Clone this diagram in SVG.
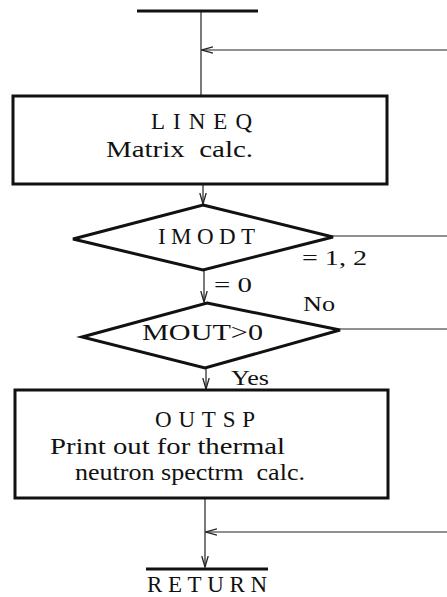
<svg xmlns="http://www.w3.org/2000/svg" width="447" height="597" viewBox="0 0 447 597">
<style>
text{font-family:"Liberation Serif","Times New Roman",serif;fill:#111;font-size:23px}
.lbl{font-size:22px}
.box{fill:#fff;stroke:#111;stroke-width:3}
.dia{fill:#fff;stroke:#111;stroke-width:3;stroke-linejoin:miter}
.ln{fill:none;stroke:#222;stroke-width:1.2}
.bar{stroke:#111;stroke-width:3}
</style>
<defs>
<marker id="ah" markerWidth="12" markerHeight="8" refX="11" refY="4" orient="auto" markerUnits="userSpaceOnUse">
<path d="M0,0.8 L11,4 L0,7.2" fill="none" stroke="#222" stroke-width="1.3"/>
</marker>
</defs>
<rect width="447" height="597" fill="#fff"/>
<g id="connectors">
<line class="ln" x1="201" y1="11" x2="201" y2="95"/>
<line class="ln" x1="447" y1="50" x2="202" y2="50" marker-end="url(#ah)"/>
<line class="ln" x1="203" y1="185" x2="203" y2="204" marker-end="url(#ah)"/>
<line class="ln" x1="333" y1="236" x2="447" y2="236"/>
<line class="ln" x1="204" y1="271" x2="204" y2="302" marker-end="url(#ah)"/>
<line class="ln" x1="340" y1="329" x2="447" y2="329"/>
<line class="ln" x1="206" y1="368" x2="206" y2="389" marker-end="url(#ah)"/>
<line class="ln" x1="205" y1="499" x2="205" y2="567" marker-end="url(#ah)"/>
<line class="ln" x1="447" y1="532" x2="206" y2="532" marker-end="url(#ah)"/>
<text class="lbl" x="302" y="265" textLength="65" lengthAdjust="spacingAndGlyphs" xml:space="preserve">= 1, 2</text>
<text class="lbl" x="214" y="292" textLength="38" lengthAdjust="spacingAndGlyphs">= 0</text>
<text class="lbl" x="303" y="311" textLength="32" lengthAdjust="spacingAndGlyphs">No</text>
<text class="lbl" x="231" y="385" textLength="38" lengthAdjust="spacingAndGlyphs">Yes</text>
</g>
<g id="start">
<line class="bar" x1="137" y1="11" x2="258" y2="11"/>
</g>
<g id="lineq">
<rect class="box" x="13" y="96" width="374" height="88"/>
<text x="151" y="129" textLength="101" lengthAdjust="spacing">LINEQ</text>
<text x="106" y="157" textLength="147" lengthAdjust="spacingAndGlyphs" xml:space="preserve">Matrix  calc.</text>
</g>
<g id="imodt">
<polygon class="dia" points="203,205 333,237 203,270 73,239"/>
<text x="158" y="244" textLength="97" lengthAdjust="spacing">IMODT</text>
</g>
<g id="mout">
<polygon class="dia" points="207,303 340,330 205,368 82,337"/>
<text x="142" y="340" textLength="121" lengthAdjust="spacingAndGlyphs">MOUT&gt;0</text>
</g>
<g id="outsp">
<rect class="box" x="15" y="390" width="373" height="108"/>
<text x="155" y="427" textLength="100" lengthAdjust="spacing">OUTSP</text>
<text x="50" y="454" textLength="235" lengthAdjust="spacingAndGlyphs">Print out for thermal</text>
<text x="75" y="480" textLength="230" lengthAdjust="spacingAndGlyphs" xml:space="preserve">neutron spectrm  calc.</text>
</g>
<g id="return">
<line class="bar" x1="146" y1="569" x2="268" y2="569"/>
<text x="147" y="592" textLength="120" lengthAdjust="spacing">RETURN</text>
</g>
</svg>
